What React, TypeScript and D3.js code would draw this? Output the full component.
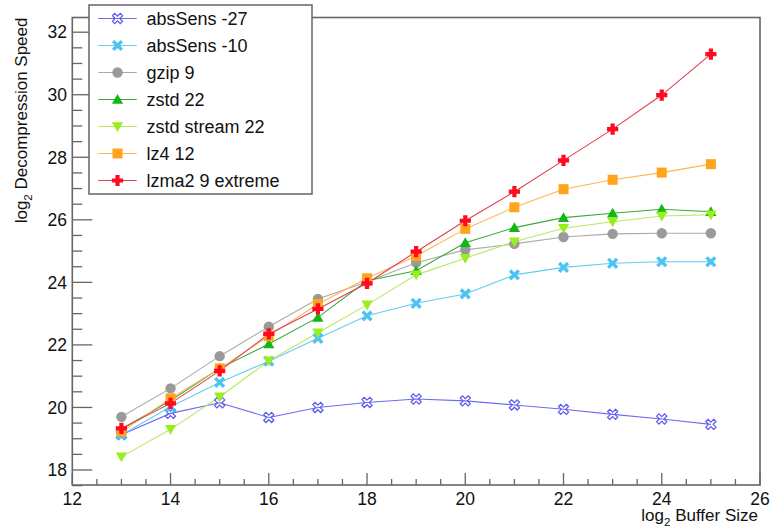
import React from "react";
import * as d3 from "d3";

// log2 buffer sizes
const bufferSizes = [13, 14, 15, 16, 17, 18, 19, 20, 21, 22, 23, 24, 25];

// log2 decompression speed per compression setting
const absSens27 = [19.13, 19.81, 20.15, 19.68, 20.0, 20.16, 20.27, 20.21, 20.08, 19.94, 19.78, 19.63, 19.46];
const absSens10 = [19.12, 20.02, 20.8, 21.48, 22.21, 22.93, 23.33, 23.63, 24.24, 24.48, 24.61, 24.66, 24.66];
const gzip9 = [19.7, 20.61, 21.64, 22.58, 23.47, 24.02, 24.63, 25.04, 25.23, 25.45, 25.55, 25.57, 25.57];
const zstd22 = [19.3, 20.22, 21.25, 22.03, 22.88, 24.05, 24.37, 25.27, 25.75, 26.07, 26.21, 26.34, 26.26];
const zstdStream22 = [18.42, 19.3, 20.34, 21.49, 22.39, 23.28, 24.24, 24.77, 25.3, 25.73, 25.94, 26.12, 26.16];
const lz412 = [19.22, 20.29, 21.25, 22.28, 23.31, 24.13, 24.84, 25.71, 26.4, 26.98, 27.28, 27.51, 27.78];
const lzma2Extreme = [19.33, 20.13, 21.17, 22.35, 23.15, 23.97, 24.98, 25.97, 26.9, 27.9, 28.9, 29.99, 31.3];

const seriesNames = [
  "absSens -27",
  "absSens -10",
  "gzip 9",
  "zstd 22",
  "zstd stream 22",
  "lz4 12",
  "lzma2 9 extreme",
];
const seriesValues = [absSens27, absSens10, gzip9, zstd22, zstdStream22, lz412, lzma2Extreme];

const xTickLabels = [12, 14, 16, 18, 20, 22, 24, 26];
const yTickLabels = [18, 20, 22, 24, 26, 28, 30, 32];

type MarkerKind = "openCrossX" | "fullCrossX" | "circle" | "triUp" | "triDown" | "square" | "plus";

const styles: { color: string; line: string; marker: MarkerKind }[] = [
  { color: "#5a5aee", line: "#6d6df0", marker: "openCrossX" },
  { color: "#4cc4f2", line: "#66ccf0", marker: "fullCrossX" },
  { color: "#9a9a9a", line: "#aaaaaa", marker: "circle" },
  { color: "#12b812", line: "#3aaa3a", marker: "triUp" },
  { color: "#9aee1e", line: "#b8e860", marker: "triDown" },
  { color: "#ffa41c", line: "#ffb550", marker: "square" },
  { color: "#ff0a1e", line: "#e04050", marker: "plus" },
];

const W = 771;
const H = 530;
const frame = { left: 72.3, right: 760, top: 17.5, bottom: 485 };
const FONT = "'Liberation Sans', Arial, Helvetica, sans-serif";
const AXIS = "#666666";

const x = d3.scaleLinear().domain([12, 26]).range([frame.left, frame.right]);
const y = d3
  .scaleLinear()
  .domain([17.52, 32.47])
  .range([frame.bottom, frame.top]);

function crossPoints(s: number, a: number): [number, number][] {
  return [
    [-a, -s], [a, -s], [a, -a], [s, -a], [s, a], [a, a],
    [a, s], [-a, s], [-a, a], [-s, a], [-s, -a], [-a, -a],
  ];
}

function Marker({ kind, cx, cy, color }: { kind: MarkerKind; cx: number; cy: number; color: string }) {
  const t = `translate(${cx},${cy})`;
  switch (kind) {
    case "circle":
      return <circle cx={cx} cy={cy} r={5.2} fill={color} />;
    case "square":
      return <rect x={cx - 5} y={cy - 5} width={10} height={10} fill={color} />;
    case "triUp":
      return <path transform={t} d="M0,-5.5L5.6,4.3L-5.6,4.3Z" fill={color} />;
    case "triDown":
      return <path transform={t} d="M0,5.5L5.6,-4.3L-5.6,-4.3Z" fill={color} />;
    case "plus":
      return <polygon transform={t} points={crossPoints(5.6, 2.1).join(" ")} fill={color} />;
    case "fullCrossX":
      return (
        <polygon
          transform={`${t} rotate(45)`}
          points={crossPoints(6.2, 1.7).join(" ")}
          fill={color}
        />
      );
    case "openCrossX":
      return (
        <polygon
          transform={`${t} rotate(45)`}
          points={crossPoints(5.6, 1.6).join(" ")}
          fill="none"
          stroke={color}
          strokeWidth={1.2}
        />
      );
  }
}

export default function App() {
  const line = d3
    .line<number>()
    .x((_, i) => x(bufferSizes[i]))
    .y((v) => y(v));

  const xMajor = d3.range(12, 26.001, 2);
  const xMinor = d3.range(12, 26.001, 0.5).filter((v) => v % 2 !== 0);
  const yMajor = yTickLabels;
  const yMinor = d3.range(17.5, 32.47, 0.5).filter((v) => v % 2 !== 0);

  const legend = { left: 89, top: 5, right: 312, bottom: 194 };
  const rowH = (legend.bottom - legend.top) / seriesNames.length;

  return (
    <svg
      width={W}
      height={H}
      viewBox={`0 0 ${W} ${H}`}
      style={{ position: "absolute", left: 0, top: 0, background: "#fff" }}
      fontFamily={FONT}
    >
      <rect x={0} y={0} width={W} height={H} fill="#fff" />

      {/* series lines */}
      {seriesValues.map((vals, k) => (
        <path key={`l${k}`} d={line(vals) ?? ""} fill="none" stroke={styles[k].line} strokeWidth={1.1} />
      ))}
      {/* series markers */}
      {seriesValues.map((vals, k) => (
        <g key={`m${k}`}>
          {vals.map((v, i) => (
            <Marker key={i} kind={styles[k].marker} cx={x(bufferSizes[i])} cy={y(v)} color={styles[k].color} />
          ))}
        </g>
      ))}

      {/* frame */}
      <rect
        x={frame.left}
        y={frame.top}
        width={frame.right - frame.left}
        height={frame.bottom - frame.top}
        fill="none"
        stroke={AXIS}
        strokeWidth={1.6}
      />

      {/* x axis ticks */}
      {xMajor.map((v) => (
        <line key={`xM${v}`} x1={x(v)} x2={x(v)} y1={frame.bottom} y2={frame.bottom - 12} stroke={AXIS} strokeWidth={1.3} />
      ))}
      {xMinor.map((v) => (
        <line key={`xm${v}`} x1={x(v)} x2={x(v)} y1={frame.bottom} y2={frame.bottom - 6} stroke={AXIS} strokeWidth={1.3} />
      ))}
      {xTickLabels.map((v) => (
        <text key={`xl${v}`} x={x(v)} y={505} fontSize={17.5} textAnchor="middle" fill="#111">
          {v}
        </text>
      ))}

      {/* y axis ticks */}
      {yMajor.map((v) => (
        <line key={`yM${v}`} x1={frame.left} x2={frame.left + 20} y1={y(v)} y2={y(v)} stroke={AXIS} strokeWidth={1.3} />
      ))}
      {yMinor.map((v) => (
        <line key={`ym${v}`} x1={frame.left} x2={frame.left + 10} y1={y(v)} y2={y(v)} stroke={AXIS} strokeWidth={1.3} />
      ))}
      {yTickLabels.map((v) => (
        <text key={`yl${v}`} x={67} y={y(v)} dy="0.36em" fontSize={17.5} textAnchor="end" fill="#111">
          {v}
        </text>
      ))}

      {/* axis titles */}
      <text x={758} y={520.5} fontSize={17} textAnchor="end" fill="#111">
        log
        <tspan fontSize={11.5} dy={5}>2</tspan>
        <tspan dy={-5}> Buffer Size</tspan>
      </text>
      <text
        transform={`translate(27,${frame.top}) rotate(-90)`}
        fontSize={17}
        textAnchor="end"
        fill="#111"
      >
        log
        <tspan fontSize={11.5} dy={5}>2</tspan>
        <tspan dy={-5}> Decompression Speed</tspan>
      </text>

      {/* legend */}
      <rect
        x={legend.left}
        y={legend.top}
        width={legend.right - legend.left}
        height={legend.bottom - legend.top}
        fill="#fff"
        stroke={AXIS}
        strokeWidth={1.5}
      />
      {seriesNames.map((name, k) => {
        const cy = legend.top + rowH * (k + 0.5);
        return (
          <g key={`lg${k}`}>
            <line x1={98.3} x2={136.7} y1={cy} y2={cy} stroke={styles[k].line} strokeWidth={1.2} />
            <Marker kind={styles[k].marker} cx={117.5} cy={cy} color={styles[k].color} />
            <text x={146.5} y={cy} dy="0.36em" fontSize={18} fill="#111">
              {name}
            </text>
          </g>
        );
      })}
    </svg>
  );
}
